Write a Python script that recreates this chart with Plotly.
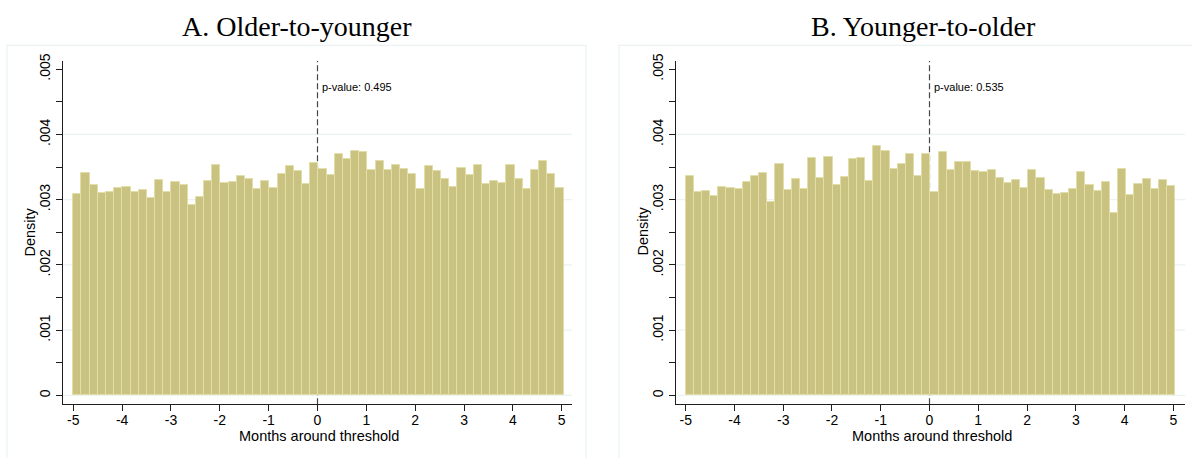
import plotly.graph_objects as go

W, H = 1192, 458

# Histogram data (density per bin), 60 bins from -5 to 5 months
BIN_START = -5.0
BIN_WIDTH = 0.1673
density_a = [
    0.003085, 0.003407, 0.003226, 0.003101, 0.003121, 0.003181, 0.003201, 0.003121, 0.003151, 0.003030,
    0.003296, 0.003116, 0.003271, 0.003221, 0.002925, 0.003035, 0.003281, 0.003538, 0.003256, 0.003271,
    0.003357, 0.003317, 0.003166, 0.003291, 0.003171, 0.003397, 0.003523, 0.003437, 0.003241, 0.003558,
    0.003467, 0.003377, 0.003693, 0.003623, 0.003749, 0.003724, 0.003462, 0.003593, 0.003462, 0.003528,
    0.003477, 0.003392, 0.003156, 0.003513, 0.003437, 0.003317, 0.003201, 0.003482, 0.003382, 0.003538,
    0.003236, 0.003291, 0.003261, 0.003533, 0.003317, 0.003166, 0.003447, 0.003588, 0.003392, 0.003186,
]
density_b = [
    0.003357, 0.003116, 0.003136, 0.003060, 0.003201, 0.003181, 0.003166, 0.003271, 0.003357, 0.003402,
    0.002960, 0.003543, 0.003151, 0.003312, 0.003156, 0.003633, 0.003327, 0.003658, 0.003221, 0.003347,
    0.003618, 0.003638, 0.003281, 0.003824, 0.003749, 0.003467, 0.003543, 0.003693, 0.003357, 0.003704,
    0.003116, 0.003734, 0.003462, 0.003583, 0.003573, 0.003437, 0.003417, 0.003457, 0.003337, 0.003256,
    0.003296, 0.003176, 0.003457, 0.003337, 0.003141, 0.003080, 0.003095, 0.003166, 0.003422, 0.003226,
    0.003136, 0.003276, 0.002794, 0.003472, 0.003065, 0.003236, 0.003312, 0.003161, 0.003307, 0.003206,
]

titles = ["A. Older-to-younger", "B. Younger-to-older"]
pvalues = ["p-value: 0.495", "p-value: 0.535"]
x_ticks = [-5, -4, -3, -2, -1, 0, 1, 2, 3, 4, 5]
y_major = [0, 0.001, 0.002, 0.003, 0.004, 0.005]
y_major_labels = ["0", ".001", ".002", ".003", ".004", ".005"]
y_minor = [0.0005, 0.0015, 0.0025, 0.0035, 0.0045]
x_title = "Months around threshold"
y_title = "Density"
threshold = 0

BAR_FILL = "rgb(201,194,128)"
BAR_LINE = "rgb(226,222,168)"
GRID = "rgb(234,242,243)"
AXIS = "rgb(30,30,30)"
SANS = "Liberation Sans, Arial, sans-serif"
SERIF = "Liberation Serif, Times New Roman, serif"


def px(x):
    return x / W


def py(y):
    return 1 - y / H


# plot areas in pixels
areas = [
    dict(x0=63, x1=572, xr=[-5.211, 5.211], frame=(7, 38, 586, 470), tcx=297),
    dict(x0=676, x1=1185, xr=[-5.199, 5.24], frame=(619, 38, 1240, 470), tcx=923),
]
Y_TOP, Y_BOT = 54, 403.3
YR = [-0.0001355, 0.005125]

fig = go.Figure()
centers = [BIN_START + BIN_WIDTH * (i + 0.5) for i in range(60)]
yt_vals = sorted(y_major + y_minor)
yt_text = [y_major_labels[y_major.index(v)] if v in y_major else "" for v in yt_vals]

shapes = []
annotations = []
for i, (dens, a) in enumerate(zip([density_a, density_b], areas)):
    xa = "x" if i == 0 else "x2"
    ya = "y" if i == 0 else "y2"
    fig.add_trace(go.Bar(
        x=centers, y=dens, width=[BIN_WIDTH] * len(dens),
        marker=dict(color=BAR_FILL, line=dict(color=BAR_LINE, width=1)),
        xaxis=xa, yaxis=ya, showlegend=False, hoverinfo="skip",
    ))
    ax_key = "xaxis" if i == 0 else "xaxis2"
    ay_key = "yaxis" if i == 0 else "yaxis2"
    fig.layout[ax_key] = dict(
        domain=[px(a["x0"]), px(a["x1"])], range=a["xr"], anchor=ya,
        tickvals=x_ticks, ticktext=[str(t) for t in x_ticks],
        ticks="outside", ticklen=6, tickwidth=1, tickcolor=AXIS,
        ticklabelstandoff=-3,
        showline=True, linecolor=AXIS, linewidth=1, showgrid=False, zeroline=False,
        tickfont=dict(family=SANS, size=14, color="black"),
    )
    fig.layout[ay_key] = dict(
        domain=[py(Y_BOT), py(Y_TOP)], range=YR, anchor=xa,
        tickvals=yt_vals, ticktext=yt_text, tickangle=-90,
        ticks="outside", ticklen=6, tickwidth=1, tickcolor=AXIS,
        showline=True, linecolor=AXIS, linewidth=1,
        showgrid=False, zeroline=False,
        tickfont=dict(family=SANS, size=14, color="black"),
    )
    # gridlines at major ticks except top
    for v in y_major[:-1]:
        shapes.append(dict(type="line", xref=f"{xa} domain", yref=ya, x0=0, x1=1, y0=v, y1=v,
                           line=dict(color=GRID, width=1.2), layer="below"))
    # threshold dashed line
    shapes.append(dict(type="line", xref=xa, yref=f"{ya} domain", x0=threshold, x1=threshold, y0=0, y1=1,
                       line=dict(color="rgb(70,70,70)", width=1.2, dash="6px,3px"), layer="below"))
    # panel frame
    fx0, fy0, fx1, fy1 = a["frame"]
    shapes.append(dict(type="rect", xref="paper", yref="paper", x0=px(fx0), x1=px(fx1), y0=py(fy1), y1=py(fy0),
                       line=dict(color=GRID, width=1.2), fillcolor="rgba(0,0,0,0)", layer="below"))
    # p-value text
    annotations.append(dict(xref=xa, yref="paper", x=threshold, y=py(80), xanchor="left", yanchor="middle",
                            xshift=2, text=pvalues[i], showarrow=False,
                            font=dict(family=SANS, size=11, color="black")))
    # title
    annotations.append(dict(xref="paper", yref="paper", x=px(a["tcx"]), y=py(19), xanchor="center", yanchor="middle",
                            text=titles[i], showarrow=False, font=dict(family=SERIF, size=28, color="black")))
    # axis titles
    annotations.append(dict(xref="paper", yref="paper", x=px((a["x0"] + a["x1"]) / 2 + 1), y=py(436),
                            xanchor="center", yanchor="middle", text=x_title, showarrow=False,
                            font=dict(family=SANS, size=14.5, color="black")))
    annotations.append(dict(xref="paper", yref="paper", x=px(a["x0"] - 33), y=py(227.5),
                            xanchor="center", yanchor="middle", text=y_title, textangle=-90, showarrow=False,
                            font=dict(family=SANS, size=14.5, color="black")))

fig.update_layout(
    width=W, height=H, margin=dict(l=0, r=0, t=0, b=0),
    paper_bgcolor="white", plot_bgcolor="white",
    shapes=shapes, annotations=annotations, bargap=0,
)
fig.write_html("out.html")
